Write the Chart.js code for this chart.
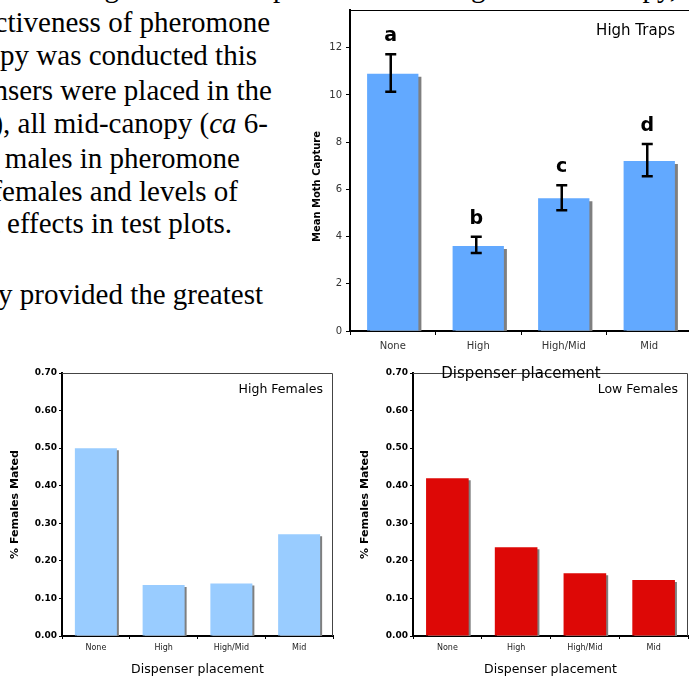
<!DOCTYPE html>
<html>
<head>
<meta charset="utf-8">
<title>Dispenser placement</title>
<script src="https://cdn.jsdelivr.net/npm/chart.js@4.4.1/dist/chart.umd.min.js"></script>
<style>
  html, body { margin: 0; padding: 0; background: #fff; }
  body { position: relative; width: 689px; height: 679px; overflow: hidden; }
  .line {
    position: absolute; white-space: nowrap; color: #000;
    font-family: "Liberation Serif", "Times New Roman", serif;
    font-size: 29px; line-height: 29px;
  }
  .box { position: absolute; }
  .box canvas { display: block; }
</style>
</head>
<body>

<div class="line" style="right:12px; top:-27px">testing the effect of placement on height in the canopy,</div>
<div class="line" style="right:419px; top:8px">the attractiveness of pheromone</div>
<div class="line" style="right:432px; top:41px">the canopy was conducted this</div>
<div class="line" style="right:417px; top:76px">Dispensers were placed in the</div>
<div class="line" style="right:421px; top:109px">(High), all mid-canopy (<i>ca</i> 6-</div>
<div class="line" style="right:449px; top:144px">number of males in pheromone</div>
<div class="line" style="right:451px; top:177px">mated females and levels of</div>
<div class="line" style="right:457px; top:209px">treatment effects in test plots.</div>
<div class="line" style="right:426px; top:280px">canopy provided the greatest</div>

<div class="box" style="left:0; top:340px"><canvas id="highFemales" width="345" height="339"></canvas></div>
<div class="box" style="left:345px; top:340px"><canvas id="lowFemales" width="344" height="339"></canvas></div>
<div class="box" style="left:300px; top:0"><canvas id="highTraps" width="400" height="385"></canvas></div>

<script>
// datos
const placements = ['None', 'High', 'High/Mid', 'Mid'];

const trapMeans = [10.9, 3.6, 5.62, 7.2];
const trapErrHigh = [11.72, 3.99, 6.18, 7.92];
const trapErrLow = [10.14, 3.3, 5.12, 6.56];
const sigLetters = ['a', 'b', 'c', 'd'];
const trapTicks = [0, 2, 4, 6, 8, 10, 12];

const highFemalesMated = [0.50, 0.136, 0.14, 0.271];
const lowFemalesMated = [0.42, 0.236, 0.167, 0.149];
const matedTicks = [0.00, 0.10, 0.20, 0.30, 0.40, 0.50, 0.60, 0.70];

Chart.defaults.font.family = "'DejaVu Sans', Verdana, sans-serif";
Chart.defaults.color = '#000';

// sombra gris detras de las barras
const barShadow = {
    id: 'barShadow',
    beforeDatasetsDraw(chart, args, opts) {
        const ctx = chart.ctx;
        ctx.save();
        ctx.shadowColor = '#7f7f7f';
        ctx.shadowBlur = 0;
        ctx.shadowOffsetX = opts.offset || 3;
        ctx.shadowOffsetY = opts.offset || 3;
    },
    afterDatasetsDraw(chart) {
        chart.ctx.restore();
    }
};

// linea superior y derecha del marco
const frameBox = {
    id: 'frameBox',
    afterDraw(chart, args, opts) {
        const { ctx, chartArea: a } = chart;
        ctx.save();
        ctx.strokeStyle = opts.color || '#444';
        ctx.lineWidth = 1;
        ctx.beginPath();
        ctx.moveTo(a.left, a.top + 0.5);
        ctx.lineTo(a.right - 0.5, a.top + 0.5);
        ctx.lineTo(a.right - 0.5, a.bottom);
        ctx.stroke();
        ctx.restore();
    }
};

// texto dentro del area del grafico
const cornerLabel = {
    id: 'cornerLabel',
    afterDraw(chart, args, opts) {
        if (!opts.text) return;
        const { ctx, chartArea: a } = chart;
        ctx.save();
        ctx.font = opts.font;
        ctx.fillStyle = '#000';
        ctx.textAlign = 'right';
        ctx.textBaseline = 'middle';
        ctx.fillText(opts.text, a.right - opts.right, a.top + opts.top);
        ctx.restore();
    }
};

// titulo del eje Y desplazado (en el original no esta centrado)
const shiftedYTitle = {
    id: 'shiftedYTitle',
    afterDraw(chart, args, opts) {
        if (!opts.text) return;
        const { ctx, chartArea: a } = chart;
        ctx.save();
        ctx.translate(opts.x, (a.top + a.bottom) / 2 + opts.dy);
        ctx.rotate(-Math.PI / 2);
        ctx.font = opts.font;
        ctx.fillStyle = '#000';
        ctx.textAlign = 'center';
        ctx.textBaseline = 'middle';
        ctx.fillText(opts.text, 0, 0);
        ctx.restore();
    }
};

// barras de error y letras de significancia
const errorBars = {
    id: 'errorBars',
    afterDatasetsDraw(chart) {
        const { ctx } = chart;
        const yScale = chart.scales.y;
        const bars = chart.getDatasetMeta(0).data;
        ctx.save();
        ctx.strokeStyle = '#000';
        ctx.fillStyle = '#000';
        ctx.lineWidth = 2.5;
        ctx.font = "bold 19px 'Comic Sans MS', 'DejaVu Sans', sans-serif";
        ctx.textAlign = 'center';
        ctx.textBaseline = 'alphabetic';
        bars.forEach((bar, i) => {
            const top = yScale.getPixelForValue(trapErrHigh[i]);
            const bot = yScale.getPixelForValue(trapErrLow[i]);
            const x = bar.x - 2;
            ctx.beginPath();
            ctx.moveTo(x, top);
            ctx.lineTo(x, bot);
            ctx.moveTo(x - 5.5, top);
            ctx.lineTo(x + 5.5, top);
            ctx.moveTo(x - 5.5, bot);
            ctx.lineTo(x + 5.5, bot);
            ctx.stroke();
            ctx.fillText(sigLetters[i], x, top - 13);
        });
        ctx.restore();
    }
};

function makeMatedChart(canvasId, values, color, label, yWidth, rightPad, titlePad) {
    return new Chart(document.getElementById(canvasId), {
        type: 'bar',
        data: {
            labels: placements,
            datasets: [{
                data: values,
                backgroundColor: color,
                barPercentage: 0.62,
                categoryPercentage: 1
            }]
        },
        options: {
            responsive: false,
            devicePixelRatio: 1,
            animation: false,
            layout: { padding: { top: 33, right: rightPad, left: 0, bottom: 0 } },
            plugins: {
                legend: { display: false },
                tooltip: { enabled: false },
                barShadow: { offset: 2 },
                frameBox: { color: '#444' },
                cornerLabel: { text: label, font: "12.5px 'DejaVu Sans', sans-serif", right: 10, top: 17 }
            },
            scales: {
                x: {
                    z: 1,
                    afterFit: s => { s.height = 43; },
                    border: { color: '#000', width: 2 },
                    grid: { drawOnChartArea: false, tickLength: 3, tickColor: '#000', offset: true },
                    ticks: { font: { size: 8 }, color: '#222', padding: 4 },
                    title: { display: true, text: 'Dispenser placement', font: { size: 12.5 }, color: '#000', padding: { top: 0, bottom: 1.5 } }
                },
                y: {
                    z: 1,
                    min: 0,
                    max: 0.7,
                    afterFit: s => { s.width = yWidth; },
                    afterBuildTicks: s => { s.ticks = matedTicks.map(v => ({ value: v })); },
                    border: { color: '#000', width: 2 },
                    grid: { drawOnChartArea: false, tickLength: 3, tickColor: '#000' },
                    ticks: { font: { size: 9, weight: 'bold' }, color: '#000', padding: 2, callback: v => v.toFixed(2) },
                    title: { display: true, text: '% Females Mated', font: { size: 11, weight: 'bold' }, color: '#000', padding: { top: titlePad, bottom: 0 } }
                }
            }
        },
        plugins: [barShadow, frameBox, cornerLabel]
    });
}

// grafico superior: captura de polillas
new Chart(document.getElementById('highTraps'), {
    type: 'bar',
    data: {
        labels: placements,
        datasets: [{
            data: trapMeans,
            backgroundColor: '#62a9ff',
            barPercentage: 0.6,
            categoryPercentage: 1
        }]
    },
    options: {
        responsive: false,
        devicePixelRatio: 1,
        animation: false,
        layout: { padding: { top: 7, right: 8, left: 0, bottom: 0 } },
        plugins: {
            legend: { display: false },
            tooltip: { enabled: false },
            barShadow: { offset: 3 },
            frameBox: { color: '#000' },
            cornerLabel: { text: 'High Traps', font: "15px 'DejaVu Sans', sans-serif", right: 17, top: 21 },
            shiftedYTitle: { text: 'Mean Moth Capture', font: "bold 10px 'DejaVu Sans', sans-serif", x: 17, dy: 16 }
        },
        scales: {
            x: {
                z: 1,
                afterFit: s => { s.height = 54; },
                border: { color: '#000', width: 2 },
                grid: { drawOnChartArea: false, tickLength: 4, tickColor: '#000', offset: true },
                ticks: { font: { size: 10 }, color: '#333', padding: 5 },
                title: { display: true, text: 'Dispenser placement', font: { size: 15 }, color: '#000', padding: { top: 0, bottom: 2 } }
            },
            y: {
                z: 1,
                min: 0,
                max: 13.6,
                afterFit: s => { s.width = 50; },
                afterBuildTicks: s => { s.ticks = trapTicks.map(v => ({ value: v })); },
                border: { color: '#000', width: 2 },
                grid: { drawOnChartArea: false, tickLength: 4, tickColor: '#000' },
                ticks: { font: { size: 10 }, color: '#333', padding: 4 }
            }
        }
    },
    plugins: [barShadow, frameBox, cornerLabel, shiftedYTitle, errorBars]
});

makeMatedChart('highFemales', highFemalesMated, '#99ccff', 'High Females', 62, 12, 8.4);
makeMatedChart('lowFemales', lowFemalesMated, '#dd0806', 'Low Females', 68, 1, 13.4);
</script>
</body>
</html>
